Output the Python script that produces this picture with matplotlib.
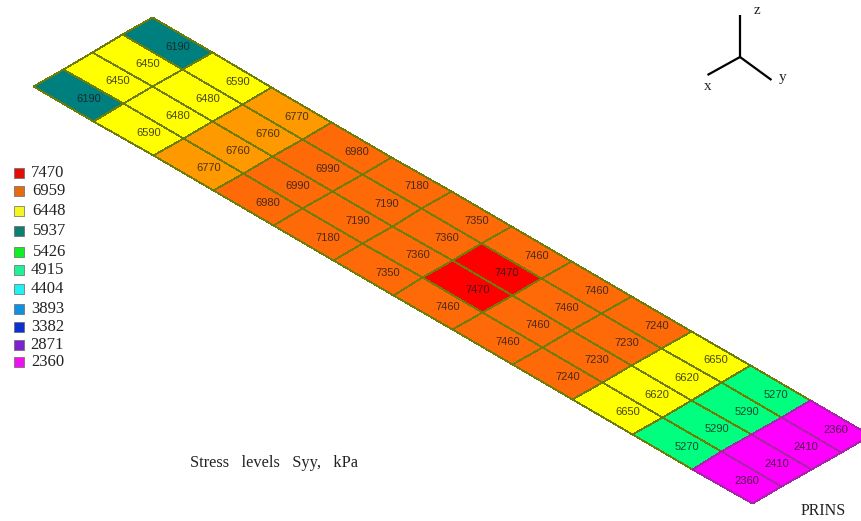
# Stress levels Syy on a plate mesh, oblique view
import numpy as np
import matplotlib.pyplot as plt
from matplotlib.colors import BoundaryNorm, ListedColormap

# -------------------------------------------------------------
# DATA
# -------------------------------------------------------------
syy_rows = [
    [6190, 6450, 6450, 6190],
    [6590, 6480, 6480, 6590],
    [6770, 6760, 6760, 6770],
    [6980, 6990, 6990, 6980],
    [7180, 7190, 7190, 7180],
    [7350, 7360, 7360, 7350],
    [7460, 7470, 7470, 7460],
    [7460, 7460, 7460, 7460],
    [7240, 7230, 7230, 7240],
    [6650, 6620, 6620, 6650],
    [5270, 5290, 5290, 5270],
    [2360, 2410, 2410, 2360],
]
legend_levels = [7470, 6959, 6448, 5937, 5426, 4915, 4404, 3893, 3382, 2871, 2360]
legend_colors = ['#e01008', '#e56a10', '#f5f520', '#0a7f72', '#10f020', '#20f09a',
                 '#20f0f0', '#1090e0', '#0a30d0', '#8020d0', '#f010f0']

# colour bins of the mesh (6700 is the lighter orange step)
bin_edges = [2360, 2871, 3382, 3893, 4404, 4915, 5426, 5937, 6448, 6700, 6959, 7470, 7500]
bin_colors = ['#ff00ff', '#8020d0', '#0a30d0', '#1090e0', '#20f0f0', '#00ff7f',
              '#10f020', '#007f7f', '#ffff00', '#ff9900', '#ff6a08', '#ff0000']

# -------------------------------------------------------------
# LAYOUT (pixel coordinates of the picture)
# -------------------------------------------------------------
origin = np.array([151.7, 17.3])    # top corner of the mesh
along = np.array([59.87, 34.8])     # one row down the plate
across = np.array([-29.6, 17.1])    # one cell across the plate
label_shift = np.array([10.5, 4.0])

legend_y = [173, 191, 211, 231, 252, 270, 289, 309, 327, 345, 362]
legend_x = [31, 32, 32, 33, 33, 31, 31, 31, 31, 30, 31]

fig = plt.figure(figsize=(8.61, 5.21), dpi=100)
ax = fig.add_axes([0, 0, 1, 1])
ax.set_xlim(0, 861)
ax.set_ylim(521, 0)
ax.axis('off')

# -------------------------------------------------------------
# MESH
# -------------------------------------------------------------
values = np.array(syy_rows)
n_rows, n_cols = values.shape
ii, jj = np.meshgrid(np.arange(n_rows + 1), np.arange(n_cols + 1), indexing='ij')
X = origin[0] + ii * along[0] + jj * across[0]
Y = origin[1] + ii * along[1] + jj * across[1]

cmap = ListedColormap(bin_colors)
norm = BoundaryNorm(bin_edges, cmap.N)
ax.pcolormesh(X[:-1], Y[:-1], values[:-1], cmap=cmap, norm=norm, shading='flat',
              edgecolors='#6e7d05', linewidth=0.55)
# last row has purple grid lines
ax.pcolormesh(X[-2:], Y[-2:], values[-1:], cmap=cmap, norm=norm, shading='flat',
              edgecolors='#a824a8', linewidth=0.55)

for i in range(n_rows):
    for j in range(n_cols):
        pos = origin + (i + 0.5) * along + (j + 0.5) * across + label_shift
        ax.text(pos[0], pos[1], str(values[i, j]), fontsize=8, color='#1a1a1a', alpha=0.8,
                family='Liberation Sans', ha='center', va='center')

# -------------------------------------------------------------
# LEGEND
# -------------------------------------------------------------
for level, color, x, y in zip(legend_levels, legend_colors, legend_x, legend_y):
    ax.scatter(18.5, y, marker='s', s=46, color=color, edgecolors='#666666', linewidths=0.5)
    ax.text(x, y, str(level), fontsize=12, color='#222222', family='Liberation Serif',
            ha='left', va='center')

# -------------------------------------------------------------
# AXIS TRIAD AND NOTES
# -------------------------------------------------------------
for end in [(740, 15), (707.5, 75), (771.5, 80)]:
    ax.plot([740, end[0]], [57, end[1]], color='black', linewidth=1.6, solid_capstyle='butt')
for name, x, y in [('z', 757, 10), ('x', 708, 86), ('y', 783, 78)]:
    ax.text(x, y, name, fontsize=11, color='#222222', family='Liberation Serif',
            ha='center', va='center')

ax.text(190, 463, 'Stress   levels   Syy,   kPa', fontsize=11.8, color='#222222',
        family='Liberation Serif', ha='left', va='center')
ax.text(801, 511, 'PRINS', fontsize=11.5, color='#222222', family='Liberation Serif',
        ha='left', va='center')

fig.savefig('out.png', dpi=100)
